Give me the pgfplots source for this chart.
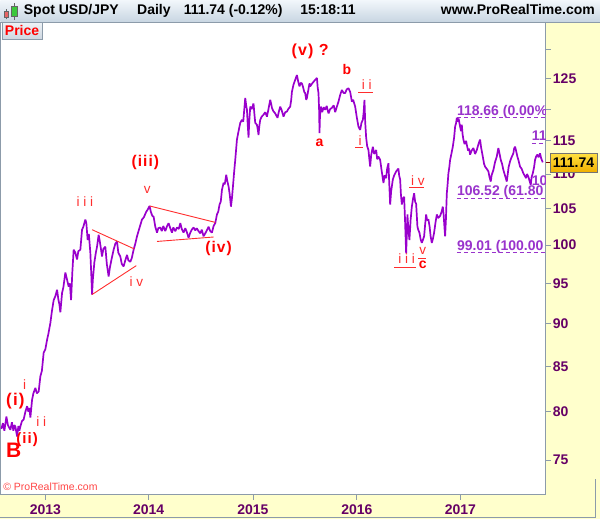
\documentclass[border=0pt]{standalone}
\usepackage{pgfplots}
\pgfplotsset{compat=1.18}
\usepackage{pgfplotstable}
\usepackage{fontspec}
\setmainfont{Liberation Sans}
\newfontfamily\wavefont[LetterSpace=28]{Liberation Sans}
\newfontfamily\wavebold[LetterSpace=7]{Liberation Sans Bold}
\definecolor{pline}{RGB}{153,0,204}
\definecolor{fib}{RGB}{153,51,204}
\definecolor{axlab}{RGB}{102,0,102}
\definecolor{wred}{RGB}{255,0,0}
\definecolor{lred}{RGB}{255,45,45}
\definecolor{panel}{RGB}{255,255,204}
\definecolor{frame}{RGB}{140,155,170}
\definecolor{hdtop}{RGB}{242,247,251}
\definecolor{hdbot}{RGB}{200,214,226}
\definecolor{crl}{RGB}{255,70,70}
\definecolor{darkred}{RGB}{128,0,0}
\definecolor{boxtop}{RGB}{255,224,64}
\definecolor{boxbot}{RGB}{240,176,0}
\definecolor{prtop}{RGB}{238,242,246}
\definecolor{prbot}{RGB}{205,214,224}
\definecolor{candr}{RGB}{230,100,100}
\definecolor{candg}{RGB}{60,200,60}

\pgfplotstableread{
x y
1 78.2
2.5 78.8
4 78.0
6 79.5
7.5 78.6
9 78.3
10 78.1
11.5 78.9
13 78.0
14 78.6
15 78.45
16.7 77.4
18 78.5
19 78.0
20 78.45
21.5 79.0
23.3 79.2
25 80.0
26.7 80.6
28 80.0
29 80.4
30 79.4
31.7 81.3
33 82.0
35 82.6
36.5 82.0
38.3 82.2
40 83.9
41.5 84.5
43.3 86.6
45 87.0
46.7 88.1
48 88.8
50 90.1
51.5 91.5
53.3 92.9
55 93.4
56.7 94.2
58 93.0
59 92.4
60 91.4
61.7 93.8
63 94.5
65 96.4
66.5 95.6
68.3 94.6
69.5 95.0
70.7 92.9
72 96.5
73.3 99.4
75 99.0
76.7 98.1
78 99.2
80 99.4
81.7 102.1
83 102.5
85 103.5
86 103.0
87.3 100.7
88.5 101.5
90 99.0
91 96.0
91.7 93.6
92.5 95.5
94 97.7
95.5 99.0
96.7 99.8
98.3 101.4
99.5 100.5
101.7 98.5
103 99.5
105 99.8
106.5 97.5
108.3 95.9
109.5 97.0
111 98.0
113.3 99.4
115 100.2
116.7 100.5
118 99.0
120 98.5
121.5 97.5
123.3 97.2
125 98.0
126.7 98.7
128 98.0
130 97.8
131.5 98.3
133.3 99.4
135 100.2
136.7 101.2
138 101.8
139.5 102.5
141.7 103.5
143.5 103.8
146 104.6
147.5 104.9
149.3 105.4
150.5 104.6
152 104.0
153.3 103.9
155 102.5
156.7 101.7
158 102.3
160 102.4
161.5 101.9
163 102.6
165 101.9
166.5 102.5
168.3 103.0
170 102.3
171.7 101.7
173 102.4
175 101.9
176.7 102.4
178.5 102.2
180 103.0
181.5 102.2
183.3 101.7
185 102.3
186.5 101.8
188.3 101.0
190 101.7
191.5 102.1
193.3 102.4
195 102.0
196.5 102.3
198.3 101.9
200 101.6
201.5 102.1
203.3 101.2
205 101.6
206.5 102.0
208.3 102.5
210 101.9
211.7 101.7
213.3 102.6
215 103.0
216.7 104.2
218 104.6
219.3 105.6
220.5 106.0
221.7 107.7
223.3 108.7
224.5 108.5
226 109.9
227 109.0
228.3 108.2
229.5 107.0
230.7 105.3
231.7 106.5
232.7 108.2
234 110.5
235 112.1
236.7 115.2
238.3 116.5
240 117.8
241.7 118.3
243 118.0
245 121.8
246 120.5
246.7 119.9
247.5 117.5
248.3 115.5
249 118.0
250 120.4
251.5 120.0
253.3 120.9
254 119.5
255 117.8
256.7 117.5
257.5 116.8
258.3 115.9
259 117.2
260 118.3
261.5 118.8
263.3 119.1
265 119.5
266.7 118.8
268 119.8
270 121.5
271 120.8
271.7 120.2
273 119.7
275 119.3
276 119.0
277.3 118.6
278.5 119.5
280 120.4
281.5 119.8
283.3 118.8
285 119.5
286.7 119.6
288 120.0
290 120.4
291 121.5
291.7 122.8
293.3 124.0
295 124.8
296.7 125.6
298 124.5
299.3 123.7
300.5 124.3
301.7 124.2
303 123.5
304 122.8
305 122.6
306 121.5
306.7 121.8
308 123.0
309.3 124.2
310 123.7
312 124.2
313.5 124.5
315 124.8
316.7 125.1
317.5 123.5
318.3 122.6
319 119.5
319.3 116.2
319.8 119.0
320.7 120.4
322 119.5
323.5 120.3
325 119.9
326.5 120.5
328.3 119.3
330 120.0
331.7 120.2
333.5 120.6
335 119.5
336.5 120.3
338.3 121.2
340 122.3
341.7 123.1
343.5 122.6
345 122.6
346.5 123.2
348.3 123.4
350 122.8
351.7 121.2
353 121.5
355 120.4
356.5 118.8
358.3 117.2
360 116.7
361.3 117.8
362.7 118.3
363.5 119.5
364.3 121.5
365 118.0
366 115.5
367 114.2
368.3 113.6
369 112.5
370 111.1
371 112.8
372.7 114.1
374 113.0
376 113.6
377 112.2
378.3 112.6
380 112.1
381.5 110.5
383.3 108.7
384.5 109.8
386 109.4
387 110.8
388.3 111.6
389 109.0
390 105.6
391 107.5
392.7 109.2
394 109.8
395 110.1
396.5 110.5
398.3 110.8
399 109.8
400 109.2
400.8 107.0
401.7 105.6
403 106.5
404 106.7
405 103.0
406 98.9
406.7 101.5
407.3 104.2
408.3 102.0
409.3 100.7
410.5 103.5
411.7 105.3
413 106.5
414 107.2
415 106.0
416 105.7
417.3 102.5
418.3 102.0
419.3 101.7
420.5 100.8
421.7 100.3
423 100.8
424 101.2
425 102.8
426 104.2
427 103.4
428.3 103.5
429.5 102.5
430.5 101.2
431.7 100.3
433 101.0
434 101.7
435.5 103.2
436.7 104.2
438 103.7
440 104.0
441.5 104.6
442.7 105.3
443.5 104.2
444.3 102.5
445 101.2
445.8 103.5
446.7 107.2
447.5 108.5
448.3 110.1
449.2 111.0
450 112.1
451 112.8
452.7 114.1
454 115.5
455 117.2
456 117.8
456.7 118.6
457.5 118.0
458.5 118.5
459.3 117.8
460 117.2
461 116.5
461.7 117.5
462.5 116.0
463.3 115.2
464.5 114.5
466 115.0
466.7 114.4
468 113.5
469 113.8
470 112.9
471.5 113.5
473.3 113.9
475 113.0
476.7 113.6
478 114.3
479 114.8
480 115.2
481 114.0
482.7 112.6
484 111.5
485 111.1
486.5 110.8
488.3 110.4
489.5 109.5
490.7 108.9
491.5 109.8
493.3 110.6
495 111.8
496.7 112.6
497.5 113.3
498.3 113.9
499.5 113.0
500.7 112.1
502 111.5
503.3 110.6
504.5 110.0
505.5 109.5
506.7 108.9
507.5 109.8
508.5 111.0
510 111.9
511.5 112.5
513.3 113.1
514 113.8
515 114.1
516 113.5
517.3 112.6
518.5 112.0
520 111.1
521.5 110.8
523.3 110.1
524.5 109.8
526 109.4
527 110.0
528.3 109.6
529.5 109.0
530.7 108.4
531.5 109.5
532.7 110.1
534 111.0
535 112.1
536 112.6
537.3 112.9
538.5 112.5
540 113.1
541 112.4
542 112.0
542.7 111.74
}\pricedata

\begin{document}
\begin{tikzpicture}
\begin{scope}[x=1bp,y=1bp]
\path[use as bounding box] (0,0) rectangle (600,519);
% panels
\fill[panel] (545.7,0) rectangle (600,497);
\fill[panel] (0,0) rectangle (600,24);
\draw[frame, line width=0.8bp] (0,0.8) -- (595.5,0.8) -- (595.5,40);
% header
\shade[top color=hdtop, bottom color=hdbot] (0,497) rectangle (600,519);
\draw[frame, line width=0.8bp] (0,497) -- (600,497);
% candle icon
\draw[black!60, line width=0.6bp] (5.8,499.5) -- (5.8,510);
\filldraw[fill=candr, draw=black!60, line width=0.5bp] (3.5,502) rectangle (8.2,507.5);
\draw[black!60, line width=0.6bp] (13.7,499) -- (13.7,516);
\filldraw[fill=candg, draw=black!60, line width=0.5bp] (11,502.5) rectangle (16.5,512.5);
% header texts
\begin{scope}[every node/.style={inner sep=0pt, font=\fontsize{14bp}{16bp}\selectfont\bfseries}]
\node[anchor=base west] at (23.3,504) {Spot USD/JPY};
\node[anchor=base west] at (136.7,504) {Daily};
\node[anchor=base west] at (183.3,504) {111.74 (-0.12\%)};
\node[anchor=base west] at (300,504) {15:18:11};
\node[anchor=base east] at (595,504) {www.ProRealTime.com};
\end{scope}
\end{scope}

\begin{axis}[
  at={(0bp,24bp)}, anchor=south west, scale only axis,
  width=545.7bp, height=473bp,
  xmin=0, xmax=545.7, ymode=log, ymin=71.6, ymax=134.86,
  axis line style={frame, line width=0.8bp},
  xtick={45,148.3,252.7,356.7,460.3},
  xticklabels={2013,2014,2015,2016,2017},
  ytick={75,80,85,90,95,100,105,110,115,120,125,130},
  yticklabels={75,80,85,90,95,100,105,110,115,,125,},
  minor ytick={},
  xtick pos=left, ytick pos=right, tick align=outside,
  major tick length=5bp,
  every tick/.style={frame, line width=0.8bp},
  yticklabel style={font=\fontsize{14bp}{16bp}\selectfont\bfseries, text=axlab, anchor=west, inner sep=0pt, xshift=2bp},
  xticklabel style={font=\fontsize{14bp}{16bp}\selectfont\bfseries, text=axlab, anchor=north, inner sep=0pt, yshift=-5bp},
]
\addplot[pline, line width=1.7bp, line join=bevel] table[x=x,y=y]{\pricedata};
% triangles
\addplot[lred, line width=0.9bp] coordinates {(91.7,102.1) (134,99.5)};
\addplot[lred, line width=0.9bp] coordinates {(91.7,93.6) (136,97.3)};
\addplot[lred, line width=0.9bp] coordinates {(149.3,105.4) (215,103.1)};
\addplot[lred, line width=0.9bp] coordinates {(156.7,100.5) (213.3,101.1)};
% fib levels
\addplot[fib, line width=0.9bp, dash pattern=on 4bp off 3bp] coordinates {(456.7,118.66) (545.7,118.66)};
\addplot[fib, line width=0.9bp, dash pattern=on 4bp off 3bp] coordinates {(531.7,114.6) (545.7,114.6)};
\addplot[fib, line width=0.9bp, dash pattern=on 4bp off 3bp] coordinates {(456.7,106.52) (545.7,106.52)};
\addplot[fib, line width=0.9bp, dash pattern=on 4bp off 3bp] coordinates {(456.7,99.01) (545.7,99.01)};
\end{axis}

\begin{scope}[x=1bp,y=1bp]
% fib labels, clipped at the plot edge
\begin{scope}
\clip (0,24) rectangle (545.7,497);
\begin{scope}[every node/.style={inner sep=0pt, text=fib, font=\fontsize{14bp}{16bp}\selectfont\bfseries, anchor=base west}]
\node at (456.7,403.5) {118.66 (0.00\%};
\node at (531.5,378) {11};
\node at (531.5,333) {10};
\node at (456.7,323.5) {106.52 (61.80};
\node at (456.7,268.5) {99.01 (100.00};
\end{scope}
\end{scope}

% current price marker
\draw[darkred, line width=1bp] (545.7,356.5) -- (550,356.5);
\shade[top color=boxtop, bottom color=boxbot] (550,347) rectangle (597,365.3);
\draw[black!55, line width=0.7bp] (550,347) rectangle (597,365.3);
\node[inner sep=0pt, font=\fontsize{14bp}{16bp}\selectfont\bfseries] at (573.5,356.2) {111.74};

% Price box
\shade[top color=prtop, bottom color=prbot] (1.7,479.7) rectangle (41.7,496.3);
\draw[frame, line width=0.7bp] (1.7,479.7) rectangle (41.7,496.3);
\node[anchor=base, inner sep=0pt, text=wred, font=\fontsize{14bp}{16bp}\selectfont\bfseries] at (21.7,483) {Price};

% copyright
\node[anchor=base west, inner sep=0pt, text=crl, font=\fontsize{10.5bp}{12bp}\selectfont] at (2.7,27.8) {\textcopyright{} ProRealTime.com};

% wave labels (bold)
\begin{scope}[every node/.style={inner sep=0pt, text=wred}]
\node[font=\fontsize{17bp}{19bp}\selectfont\wavebold] at (15,117.3) {(i)};
\node[font=\fontsize{15bp}{17bp}\selectfont\wavebold] at (26.7,79) {(ii)};
\node[font=\fontsize{21bp}{23bp}\selectfont\bfseries] at (13.3,68.3) {B};
\node[font=\fontsize{15.5bp}{17bp}\selectfont\wavebold] at (145,356.3) {(iii)};
\node[font=\fontsize{15.5bp}{17bp}\selectfont\wavebold] at (218.3,270.7) {(iv)};
\node[font=\fontsize{16bp}{18bp}\selectfont\wavebold] at (310,468) {(v) ?};
\node[font=\fontsize{14bp}{16bp}\selectfont\bfseries] at (346.7,449) {b};
\node[font=\fontsize{14bp}{16bp}\selectfont\bfseries] at (319.3,376.3) {a};
\node[font=\fontsize{14bp}{16bp}\selectfont\bfseries] at (422.7,254) {c};
\end{scope}
% wave labels (small)
\begin{scope}[every node/.style={inner sep=0pt, text=lred, font=\fontsize{13.5bp}{15bp}\selectfont\wavefont}]
\node at (24.3,134) {i};
\node at (41,97) {ii};
\node at (84.5,317.3) {iii};
\node at (136,237.3) {iv};
\node at (147,329) {v};
\node at (366.7,434) {ii};
\node at (360,378.3) {i};
\node at (417.7,338.3) {iv};
\node at (406.5,260) {iii};
\node at (422.7,268.3) {v};
\end{scope}
\begin{scope}[lred, line width=1.1bp]
\draw (358,426.3) -- (373,426.3);
\draw (355,371.3) -- (363,371.3);
\draw (409,331.3) -- (424,331.3);
\draw (394,251.7) -- (416,251.7);
\draw (418,260.7) -- (426,260.7);
\end{scope}
\end{scope}
\end{tikzpicture}
\end{document}
